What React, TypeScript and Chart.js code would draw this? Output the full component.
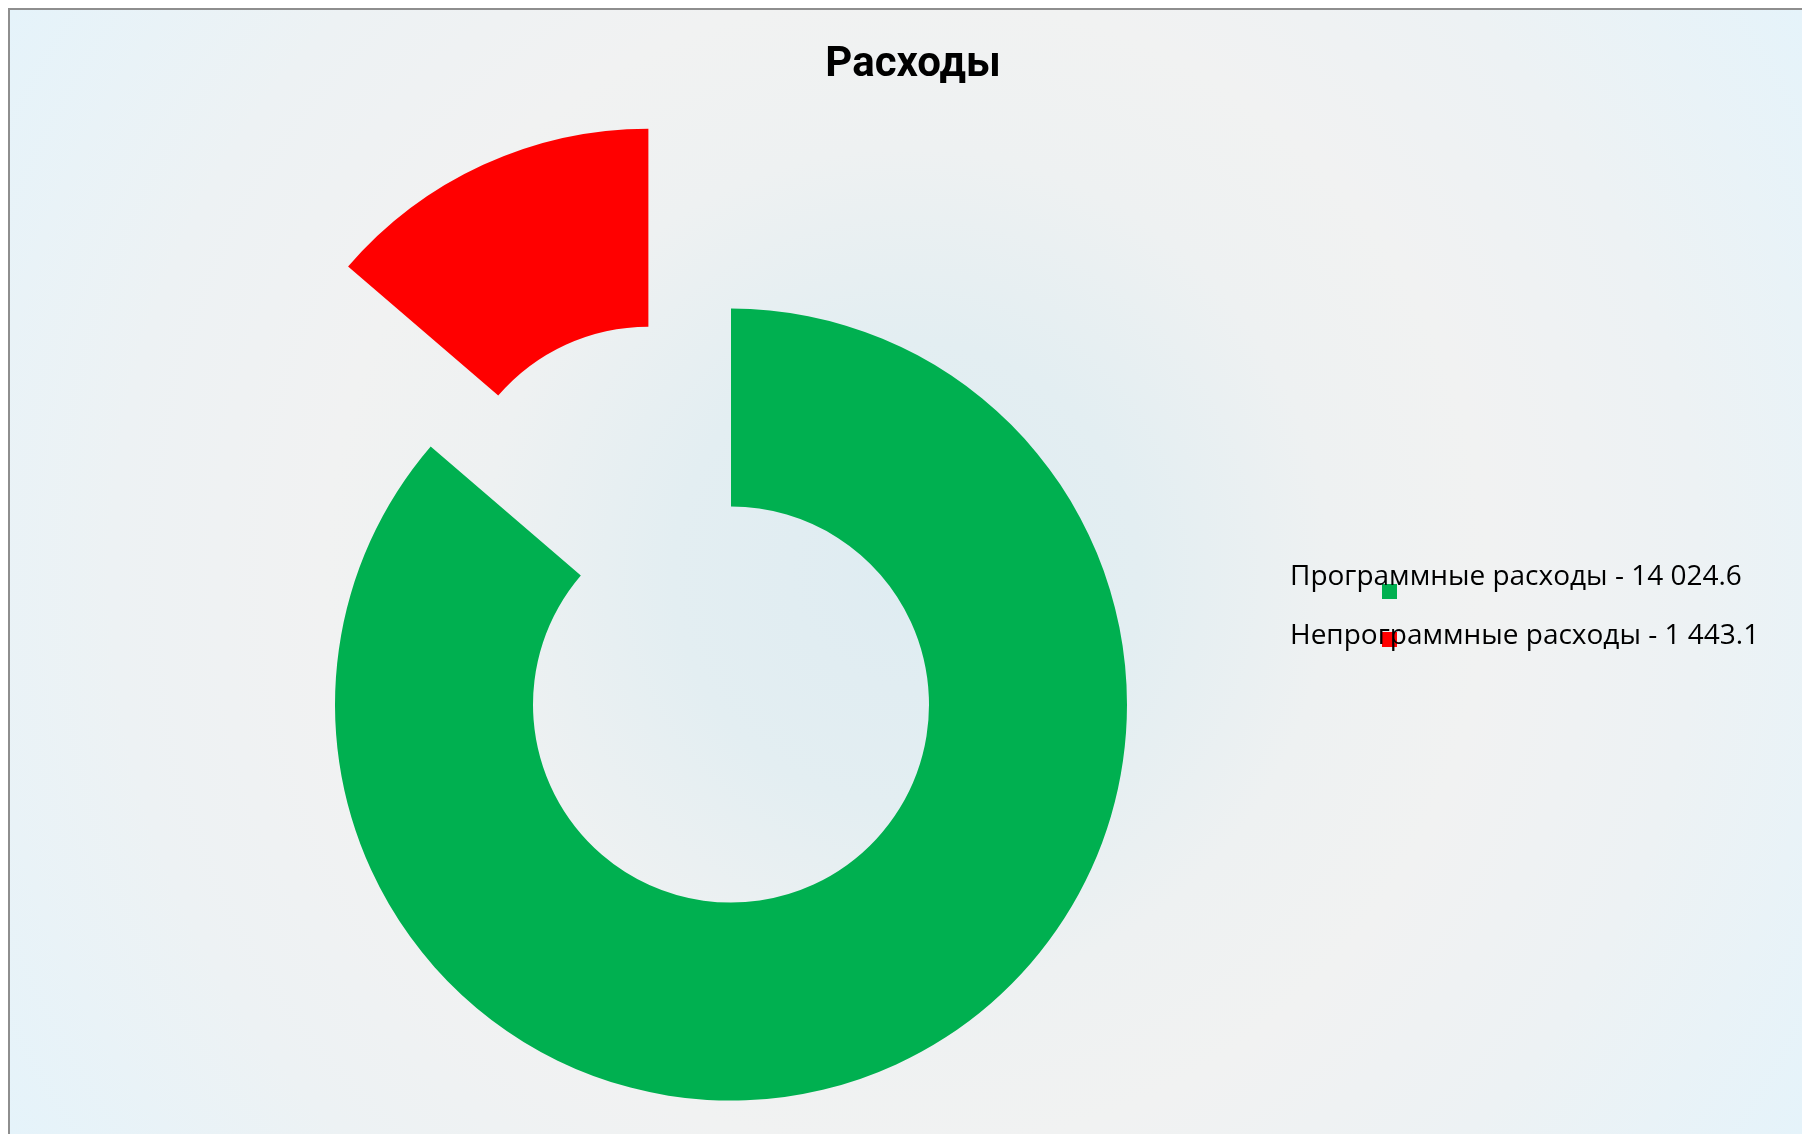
import React, { useEffect, useRef } from "react";
import { Chart, registerables } from "chart.js";

Chart.register(...registerables);

// ---- data ----
const titleText = "Расходы";
const categories = [
  "Программные расходы - 14 024.6",
  "Непрограммные расходы - 1 443.1",
];
// share of the ring taken by each slice (~310.5° vs ~49.5°)
const sliceShares = [86.3, 13.7];
const sliceColors = ["#00B050", "#FF0000"];
const explodedSlices = [false, true];

// pulls exploded slices out from the centre, along their mid-angle (Excel "point explosion")
const explodePlugin = {
  id: "explodeSlices",
  afterDatasetUpdate(chart: any, args: any, opts: any) {
    const meta = chart.getDatasetMeta(args.index);
    meta.data.forEach((arc: any, i: number) => {
      if (!explodedSlices[i]) return;
      const half = (arc.startAngle + arc.endAngle) / 2;
      const d = arc.outerRadius * (opts.ratio ?? 0.5);
      arc.x += Math.cos(half) * d;
      arc.y += Math.sin(half) * d;
    });
  },
};

// title + Excel-like side legend
const textPlugin = {
  id: "excelText",
  afterDraw(chart: any, _args: any, opts: any) {
    const ctx = chart.ctx as CanvasRenderingContext2D;
    const labels = chart.data.labels as string[];
    const colors = chart.data.datasets[0].backgroundColor as string[];
    ctx.save();
    // title
    ctx.fillStyle = "#000";
    ctx.textAlign = "center";
    ctx.textBaseline = "alphabetic";
    ctx.font = opts.titleFont;
    ctx.fillText(opts.title, opts.titleX, opts.titleY);
    // legend markers
    labels.forEach((_, i) => {
      ctx.fillStyle = colors[i];
      ctx.fillRect(
        opts.markerX,
        opts.markerY + i * opts.markerGap,
        opts.markerSize,
        opts.markerSize
      );
    });
    // legend text
    ctx.textAlign = "left";
    ctx.fillStyle = "#000";
    ctx.font = opts.legendFont;
    labels.forEach((label, i) => {
      ctx.fillText(label, opts.textX, opts.textY + i * opts.lineGap);
    });
    ctx.restore();
  },
};

export default function App() {
  const canvasRef = useRef<HTMLCanvasElement | null>(null);

  useEffect(() => {
    const canvas = canvasRef.current;
    if (!canvas) return;
    const chart = new Chart(canvas, {
      type: "doughnut",
      data: {
        labels: categories,
        datasets: [
          {
            data: sliceShares,
            backgroundColor: sliceColors,
            borderWidth: 0,
            clip: false as any,
          },
        ],
      },
      options: {
        responsive: false,
        animation: false,
        events: [],
        radius: 396,
        cutout: "50%",
        layout: { padding: { left: 0, right: 350, top: 265.2, bottom: 0 } },
        plugins: {
          legend: { display: false },
          title: { display: false },
          tooltip: { enabled: false },
          explodeSlices: { ratio: 0.5 },
          excelText: {
            title: titleText,
            titleFont: "bold 42px Roboto",
            titleX: 903,
            titleY: 66,
            legendFont: "28px 'Open Sans'",
            textX: 1280,
            textY: 575,
            lineGap: 59,
            markerX: 1372,
            markerY: 574,
            markerGap: 48,
            markerSize: 15,
          },
        } as any,
      },
      plugins: [explodePlugin, textPlugin],
    });
    return () => chart.destroy();
  }, []);

  return (
    <div
      style={{
        position: "fixed",
        left: 8,
        top: 8,
        width: 1794,
        height: 1126,
        boxSizing: "border-box",
        borderTop: "2px solid #8e8e8e",
        borderLeft: "2px solid #8e8e8e",
        overflow: "hidden",
        background:
          "radial-gradient(circle farthest-corner at 50% 50%, #dfecf2 0%, #e3eef2 22%, #eef1f2 40%, #f1f2f2 55%, #edf2f4 75%, #e5f3fa 100%)",
      }}
    >
      <canvas
        ref={canvasRef}
        width={1792}
        height={1124}
        style={{ display: "block", width: 1792, height: 1124 }}
      />
    </div>
  );
}
